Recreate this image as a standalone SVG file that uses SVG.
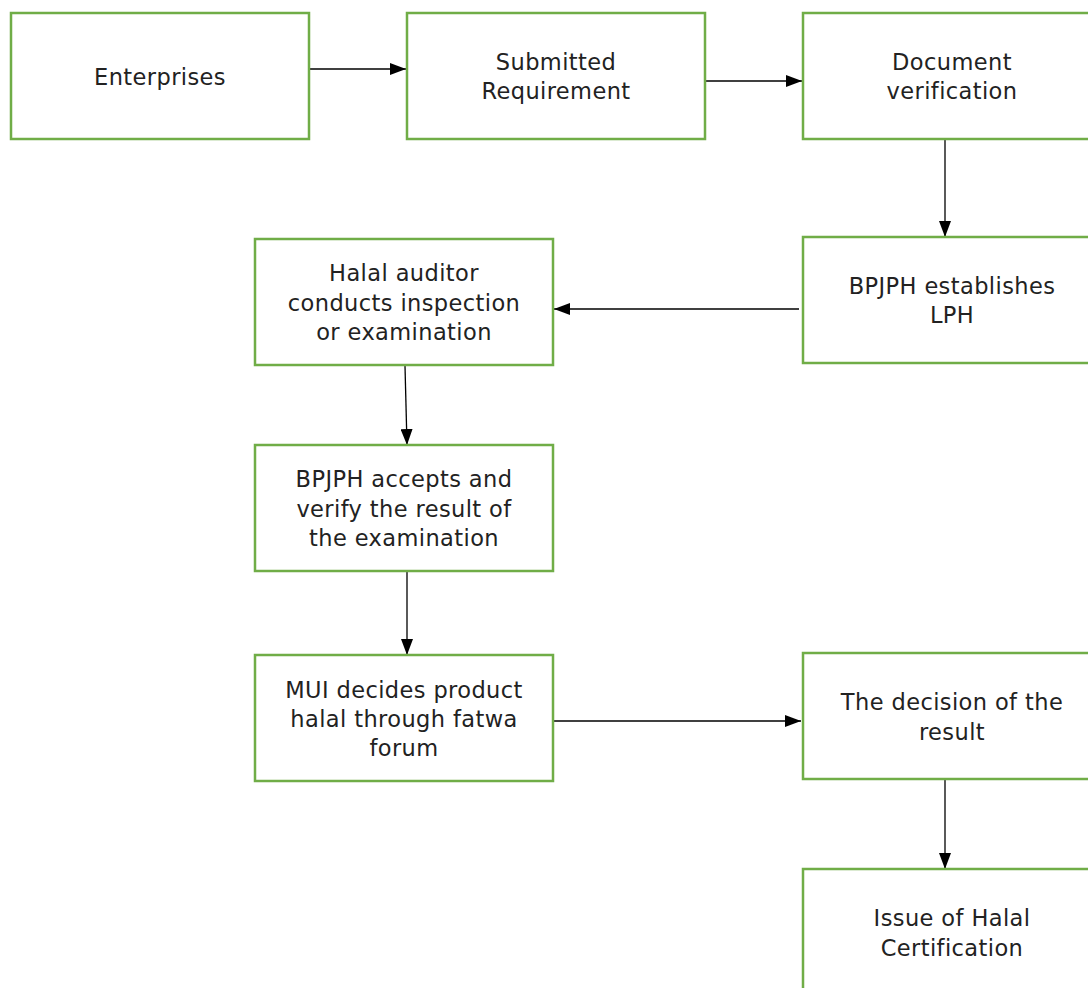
<svg xmlns="http://www.w3.org/2000/svg" width="1088" height="988" viewBox="0 0 1088 988">
<defs>
<marker id="ah" markerWidth="16" markerHeight="12" refX="16" refY="6" orient="auto" markerUnits="userSpaceOnUse">
<path d="M0,0 L16,6 L0,12 Z" fill="#000"/>
</marker>
<style>
.box{fill:#fff;stroke:#70AD47;stroke-width:2.5}
.t{font-family:"DejaVu Sans","Noto Sans",sans-serif;font-size:22.5px;fill:#222;text-anchor:middle;letter-spacing:0.4px}
.c{stroke:#000;stroke-width:1.3;fill:none;marker-end:url(#ah)}
</style>
</defs>
<rect width="1088" height="988" fill="#fff"/>
<g id="connectors">
<line class="c" x1="310" y1="69" x2="406" y2="69"/>
<line class="c" x1="706" y1="81" x2="802" y2="81"/>
<line class="c" x1="945" y1="140" x2="945" y2="237"/>
<line class="c" x1="799" y1="309" x2="554" y2="309"/>
<line class="c" x1="405" y1="366" x2="407" y2="445"/>
<line class="c" x1="407" y1="572" x2="407" y2="655"/>
<line class="c" x1="554" y1="721" x2="801" y2="721"/>
<line class="c" x1="945" y1="780" x2="945" y2="869"/>
</g>
<g id="enterprises"><rect class="box" x="11" y="13" width="298" height="126"/><text class="t" x="160" y="85">Enterprises</text></g>
<g id="submitted"><rect class="box" x="407" y="13" width="298" height="126"/><text class="t" x="556" y="70">Submitted</text><text class="t" x="556" y="99">Requirement</text></g>
<g id="document"><rect class="box" x="803" y="13" width="298" height="126"/><text class="t" x="952" y="70">Document</text><text class="t" x="952" y="99">verification</text></g>
<g id="establishes"><rect class="box" x="803" y="237" width="298" height="126"/><text class="t" x="952" y="294">BPJPH establishes</text><text class="t" x="952" y="323">LPH</text></g>
<g id="auditor"><rect class="box" x="255" y="239" width="298" height="126"/><text class="t" x="404" y="281">Halal auditor</text><text class="t" x="404" y="311">conducts inspection</text><text class="t" x="404" y="340">or examination</text></g>
<g id="accepts"><rect class="box" x="255" y="445" width="298" height="126"/><text class="t" x="404" y="487">BPJPH accepts and</text><text class="t" x="404" y="517">verify the result of</text><text class="t" x="404" y="546">the examination</text></g>
<g id="mui"><rect class="box" x="255" y="655" width="298" height="126"/><text class="t" x="404" y="698">MUI decides product</text><text class="t" x="404" y="727">halal through fatwa</text><text class="t" x="404" y="756">forum</text></g>
<g id="decision"><rect class="box" x="803" y="653" width="298" height="126"/><text class="t" x="952" y="710">The decision of the</text><text class="t" x="952" y="740">result</text></g>
<g id="issue"><rect class="box" x="803" y="869" width="298" height="140"/><text class="t" x="952" y="926">Issue of Halal</text><text class="t" x="952" y="956">Certification</text></g>
</svg>
